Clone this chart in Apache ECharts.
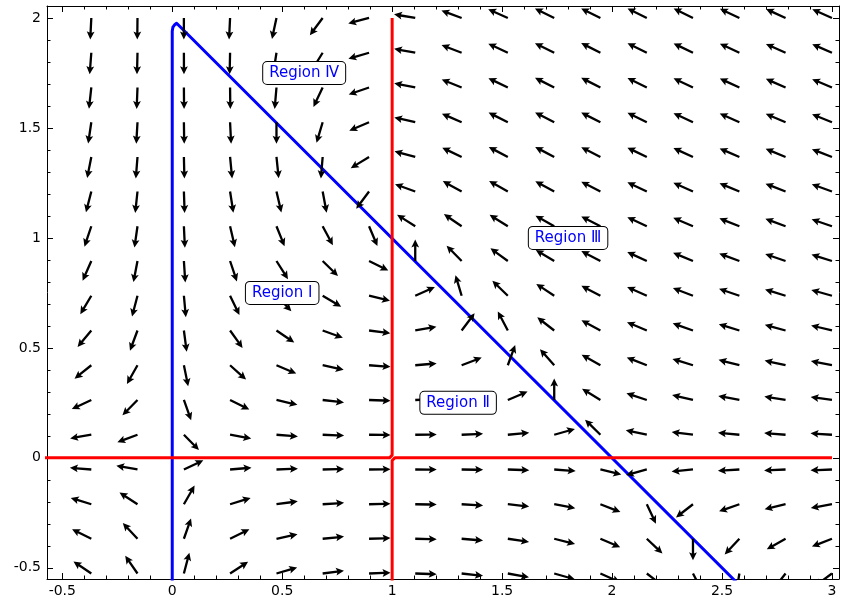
<!DOCTYPE html>
<html>
<head>
<meta charset="utf-8">
<script src="https://cdn.jsdelivr.net/npm/echarts@6/dist/echarts.min.js"></script>
<style>
  html, body { margin: 0; padding: 0; background: #ffffff; }
  #chart { width: 842px; height: 601px; }
</style>
</head>
<body>
<div id="chart"></div>
<script>
// Visible extent of the phase plane
const xRange = [-0.5695, 3.032];
const yRange = [-0.551, 2.0545];

// Tick positions (major carry labels, minor every 0.1)
const xMajorTicks = [-0.5, 0, 0.5, 1, 1.5, 2, 2.5, 3];
const yMajorTicks = [-0.5, 0, 0.5, 1, 1.5, 2];
const xMinorTicks = [-0.5, -0.4, -0.3, -0.2, -0.1, 0, 0.1, 0.2, 0.3, 0.4, 0.5, 0.6, 0.7, 0.8, 0.9, 1,
  1.1, 1.2, 1.3, 1.4, 1.5, 1.6, 1.7, 1.8, 1.9, 2, 2.1, 2.2, 2.3, 2.4, 2.5, 2.6, 2.7, 2.8, 2.9, 3];
const yMinorTicks = [-0.5, -0.4, -0.3, -0.2, -0.1, 0, 0.1, 0.2, 0.3, 0.4, 0.5, 0.6, 0.7, 0.8, 0.9, 1,
  1.1, 1.2, 1.3, 1.4, 1.5, 1.6, 1.7, 1.8, 1.9, 2];

// Sample points of the direction field (arrow tails)
const fieldX = [-0.368, -0.158, 0.053, 0.263, 0.474, 0.684, 0.895, 1.105, 1.316, 1.526,
  1.737, 1.947, 2.158, 2.368, 2.579, 2.789, 3.0];
const fieldY = [-0.526, -0.368, -0.211, -0.053, 0.105, 0.263, 0.421, 0.579, 0.737, 0.895,
  1.053, 1.211, 1.368, 1.526, 1.684, 1.842, 2.0];

// The plotted system:  x' = x (2 - x - y),   y' = y (x - 1)
function rhs(x, y) {
  return [x * (2 - x - y), y * (x - 1)];
}

// Nullclines of x' (blue): x = 0 and x + y = 2
const blueNullcline = [[0, -1], [0, 1.94], [0.003, 1.958], [0.01, 1.968], [0.02, 1.976], [0.027, 1.973], [2.6, -0.6]];
// Nullclines of y' (red): y = 0 and x = 1, traced as two branches meeting at (1, 0)
const redBranchUpper = [[1, 2.0], [1, 0.012], [0.996, 0.004], [0.988, 0], [-1, 0]];
const redBranchLower = [[3, 0], [1.012, 0], [1.004, -0.004], [1, -0.012], [1, -1]];

// Region labels
const regionNames = ['Region Ⅰ', 'Region Ⅱ', 'Region Ⅲ', 'Region Ⅳ'];
const regionX = [0.5, 1.3, 1.8, 0.6];
const regionY = [0.75, 0.25, 1.0, 1.75];

const FONT = '"DejaVu Sans", "Liberation Sans", sans-serif';

const fieldPoints = [];
fieldY.forEach(function (y) {
  fieldX.forEach(function (x) { fieldPoints.push([x, y]); });
});

const labelData = regionNames.map(function (name, i) { return [regionX[i], regionY[i], name]; });

function arrowItem(params, api) {
  const x = api.value(0), y = api.value(1);
  const p = api.coord([x, y]);
  const d = rhs(x, y);
  const unit = api.size([1, 1]);
  let dx = d[0] * unit[0], dy = -d[1] * unit[1];
  const n = Math.hypot(dx, dy) || 1;
  dx /= n; dy /= n;
  const nx = -dy, ny = dx;
  const L = 21.5, sw = 1.15, hl = 8, hn = 6.8, hw = 3.9;
  function pt(t, s) { return [p[0] + dx * t + nx * s, p[1] + dy * t + ny * s]; }
  return {
    type: 'polygon',
    shape: { points: [pt(0, -sw), pt(L - hn, -sw), pt(L - hl, -hw), pt(L, 0), pt(L - hl, hw), pt(L - hn, sw), pt(0, sw)] },
    style: { fill: '#000000' }
  };
}

function labelItem(params, api) {
  const p = api.coord([api.value(0), api.value(1)]);
  return {
    type: 'text',
    x: p[0], y: p[1],
    style: {
      text: labelData[params.dataIndex][2],
      fill: '#0000ff',
      font: '15px ' + FONT,
      align: 'center',
      verticalAlign: 'middle',
      backgroundColor: '#ffffff',
      borderColor: '#000000',
      borderWidth: 1,
      borderRadius: 4,
      padding: [4, 6, 3, 6]
    }
  };
}

function xAxisDef(position, ticks, len, withLine, withLabels) {
  return {
    type: 'value', position: position, min: xRange[0], max: xRange[1],
    axisLine: { show: withLine, onZero: false, lineStyle: { color: '#000000', width: 1 } },
    axisTick: { show: true, inside: true, length: len, customValues: ticks, lineStyle: { color: '#000000', width: 1 } },
    axisLabel: withLabels ? { show: true, customValues: xMajorTicks, color: '#000000', fontSize: 14, fontFamily: FONT, margin: 5 } : { show: false },
    splitLine: { show: false }
  };
}
function yAxisDef(position, ticks, len, withLine, withLabels) {
  return {
    type: 'value', position: position, min: yRange[0], max: yRange[1],
    axisLine: { show: withLine, onZero: false, lineStyle: { color: '#000000', width: 1 } },
    axisTick: { show: true, inside: true, length: len, customValues: ticks, lineStyle: { color: '#000000', width: 1 } },
    axisLabel: withLabels ? { show: true, customValues: yMajorTicks, color: '#000000', fontSize: 14, fontFamily: FONT, margin: 6 } : { show: false },
    splitLine: { show: false }
  };
}

const chart = echarts.init(document.getElementById('chart'), null, { renderer: 'canvas' });
chart.setOption({
  animation: false,
  backgroundColor: '#ffffff',
  grid: { left: 47, right: 3, top: 6, bottom: 22, containLabel: false },
  xAxis: [
    xAxisDef('bottom', xMajorTicks, 6, true, true),
    xAxisDef('bottom', xMinorTicks, 3.5, false, false),
    xAxisDef('top', xMajorTicks, 6, true, false),
    xAxisDef('top', xMinorTicks, 3.5, false, false)
  ],
  yAxis: [
    yAxisDef('left', yMajorTicks, 6, true, true),
    yAxisDef('left', yMinorTicks, 3.5, false, false),
    yAxisDef('right', yMajorTicks, 6, true, false),
    yAxisDef('right', yMinorTicks, 3.5, false, false)
  ],
  series: [
    {
      name: 'x-nullcline', type: 'line', data: blueNullcline, showSymbol: false, clip: true, z: 2,
      lineStyle: { color: '#0000ff', width: 3, join: 'round' }
    },
    {
      name: 'y-nullcline upper', type: 'line', data: redBranchUpper, showSymbol: false, clip: true, z: 3,
      lineStyle: { color: '#ff0000', width: 3, join: 'round' }
    },
    {
      name: 'y-nullcline lower', type: 'line', data: redBranchLower, showSymbol: false, clip: true, z: 3,
      lineStyle: { color: '#ff0000', width: 3, join: 'round' }
    },
    {
      name: 'direction field', type: 'custom', data: fieldPoints, renderItem: arrowItem, clip: true, z: 4,
      encode: { x: 0, y: 1 }
    },
    {
      name: 'regions', type: 'custom', data: labelData, renderItem: labelItem, z: 5,
      encode: { x: 0, y: 1 }
    }
  ]
});
</script>
</body>
</html>
